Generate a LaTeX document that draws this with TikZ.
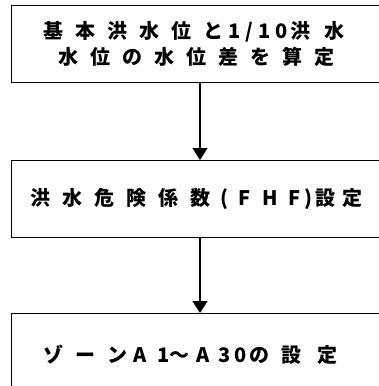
\documentclass[tikz,border=0pt]{standalone}
\usepackage{fontspec}
\newfontfamily\jp{Noto Sans CJK JP}
\usetikzlibrary{arrows.meta}
\newcommand\gq{\hspace{12pt}}
\tikzset{
  box/.style={draw, line width=1.3pt, minimum width=420pt, anchor=north west, inner sep=0pt},
  lbl/.style={anchor=west, inner sep=0pt, font=\jp\bfseries\fontsize{20}{20}\selectfont},
  link/.style={line width=1.2pt, -{Triangle[width=15pt,length=12pt]}}
}
\begin{document}
\begin{tikzpicture}[x=1pt,y=-1pt]
\clip (0,0) rectangle (379,386);
\node[box, minimum height=77pt] (b1) at (11,5) {};
\node[box, minimum height=77pt] (b2) at (11,160) {};
\node[box, minimum height=120pt] (b3) at (11,313) {};
\node[lbl] (t1a) at (43,32) {基\gq 本\gq 洪\gq 水\gq 位\gq と\hspace{5pt}1\hspace{5pt}/\hspace{5pt}1\hspace{5pt}0\hspace{3pt}洪\hspace{14pt}水};
\node[lbl] (t1b) at (58,57) {水\gq 位\gq の\gq 水\gq 位\gq 差\gq を\gq 算\gq 定};
\node[lbl] (t2) at (30,199) {洪\gq 水\gq 危\gq 険\gq 係\gq 数\hspace{10pt}(\hspace{10pt}F\hspace{12pt}H\hspace{11pt}F\hspace{4pt})\hspace{3pt}設\hspace{7pt}定};
\node[lbl] (t3) at (43,355) {ゾ\gq ー\gq ン\hspace{6pt}A\hspace{11pt}1〜\hspace{7pt}A\hspace{9pt}3\hspace{4pt}0\hspace{2pt}の\hspace{12pt}設\hspace{16pt}定};
\coordinate (ax) at (200,0);
\draw[link] (ax |- b1.south) -- (ax |- b2.north);
\draw[link] (ax |- b2.south) -- (ax |- b3.north);
\end{tikzpicture}
\end{document}
